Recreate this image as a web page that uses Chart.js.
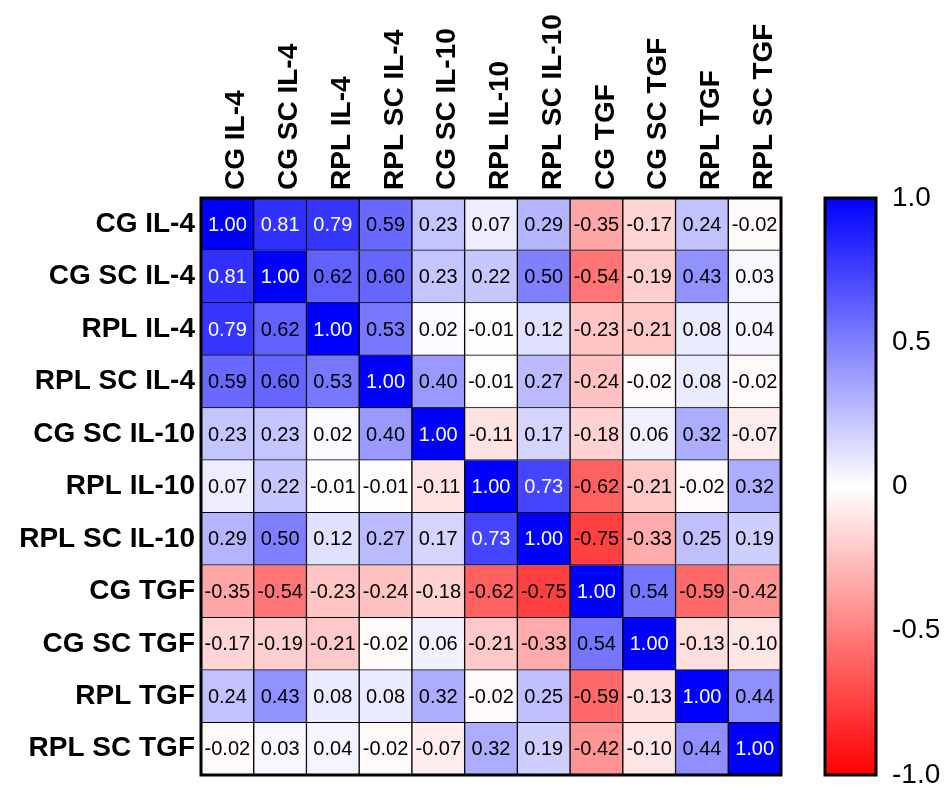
<!DOCTYPE html>
<html>
<head>
<meta charset="utf-8">
<script src="https://cdn.jsdelivr.net/npm/chart.js@4"></script>
<style>
  body { margin: 0; background: #fff; overflow: hidden; }
  #heat { display: block; width: 950px; height: 785px; }
</style>
</head>
<body>
<canvas id="heat" width="950" height="785"></canvas>
<script>
const labels = ['CG IL-4', 'CG SC IL-4', 'RPL IL-4', 'RPL SC IL-4', 'CG SC IL-10', 'RPL IL-10',
                'RPL SC IL-10', 'CG TGF', 'CG SC TGF', 'RPL TGF', 'RPL SC TGF'];

// one row of the correlation matrix per array
const rowCgIl4     = [1.00, 0.81, 0.79, 0.59, 0.23, 0.07, 0.29, -0.35, -0.17, 0.24, -0.02];
const rowCgScIl4   = [0.81, 1.00, 0.62, 0.60, 0.23, 0.22, 0.50, -0.54, -0.19, 0.43, 0.03];
const rowRplIl4    = [0.79, 0.62, 1.00, 0.53, 0.02, -0.01, 0.12, -0.23, -0.21, 0.08, 0.04];
const rowRplScIl4  = [0.59, 0.60, 0.53, 1.00, 0.40, -0.01, 0.27, -0.24, -0.02, 0.08, -0.02];
const rowCgScIl10  = [0.23, 0.23, 0.02, 0.40, 1.00, -0.11, 0.17, -0.18, 0.06, 0.32, -0.07];
const rowRplIl10   = [0.07, 0.22, -0.01, -0.01, -0.11, 1.00, 0.73, -0.62, -0.21, -0.02, 0.32];
const rowRplScIl10 = [0.29, 0.50, 0.12, 0.27, 0.17, 0.73, 1.00, -0.75, -0.33, 0.25, 0.19];
const rowCgTgf     = [-0.35, -0.54, -0.23, -0.24, -0.18, -0.62, -0.75, 1.00, 0.54, -0.59, -0.42];
const rowCgScTgf   = [-0.17, -0.19, -0.21, -0.02, 0.06, -0.21, -0.33, 0.54, 1.00, -0.13, -0.10];
const rowRplTgf    = [0.24, 0.43, 0.08, 0.08, 0.32, -0.02, 0.25, -0.59, -0.13, 1.00, 0.44];
const rowRplScTgf  = [-0.02, 0.03, 0.04, -0.02, -0.07, 0.32, 0.19, -0.42, -0.10, 0.44, 1.00];

const matrix = [rowCgIl4, rowCgScIl4, rowRplIl4, rowRplScIl4, rowCgScIl10, rowRplIl10,
                rowRplScIl10, rowCgTgf, rowCgScTgf, rowRplTgf, rowRplScTgf];

const colorbarTicks = [-1, -0.5, 0, 0.5, 1];

// white -> blue for positive, white -> red for negative
function cellColor(v) {
    const t = Math.min(Math.abs(v), 1);
    const k = Math.round(255 * (1 - t));
    return v >= 0 ? `rgb(${k},${k},255)` : `rgb(255,${k},${k})`;
}

// each row is a dataset of unit-height stacked bars, one per column
const datasets = matrix.map((row, r) => ({
    label: labels[r],
    data: row.map(() => 1),
    values: row,
    backgroundColor: row.map(cellColor),
    borderColor: '#000',
    borderWidth: 1,
    barPercentage: 1,
    categoryPercentage: 1,
    stack: 'grid'
}));

const cellText = {
    id: 'cellText',
    afterDatasetsDraw(chart) {
        const ctx = chart.ctx;
        ctx.save();
        ctx.font = '20px "Liberation Sans", Arial, sans-serif';
        ctx.textAlign = 'center';
        ctx.textBaseline = 'middle';
        chart.data.datasets.forEach((ds, r) => {
            chart.getDatasetMeta(r).data.forEach((bar, c) => {
                const v = ds.values[c];
                ctx.fillStyle = v >= 0.7 ? '#fff' : '#000';
                ctx.fillText(v.toFixed(2), bar.x, (bar.y + bar.base) / 2 + 1);
            });
        });
        const a = chart.chartArea;
        ctx.lineWidth = 3;
        ctx.strokeStyle = '#000';
        ctx.strokeRect(a.left, a.top, a.right - a.left, a.bottom - a.top);
        ctx.restore();
    }
};

const colorBar = {
    id: 'colorBar',
    afterDraw(chart) {
        const ctx = chart.ctx;
        const s = chart.scales.cb;
        const a = chart.chartArea;
        const top = s.getPixelForValue(1);
        const bottom = s.getPixelForValue(-1);
        const left = a.right + 44;
        const w = 51;
        const g = ctx.createLinearGradient(0, top, 0, bottom);
        g.addColorStop(0, cellColor(1));
        g.addColorStop(0.5, cellColor(0));
        g.addColorStop(1, cellColor(-1));
        ctx.save();
        ctx.fillStyle = g;
        ctx.fillRect(left, top, w, bottom - top);
        ctx.lineWidth = 3;
        ctx.strokeStyle = '#000';
        ctx.strokeRect(left, top, w, bottom - top);
        ctx.restore();
    }
};

const labelFont = { family: 'Liberation Sans', weight: 'bold', size: 28 };

// fixed box sizes, no label overhang padding
const fixWidth = w => s => { s.width = w; s.paddingTop = 0; s.paddingBottom = 0; };

new Chart(document.getElementById('heat'), {
    type: 'bar',
    data: { labels: labels, datasets: datasets },
    options: {
        responsive: false,
        animation: false,
        layout: { padding: { top: 0, left: 0, right: 0, bottom: 10 } },
        plugins: {
            legend: { display: false },
            tooltip: { enabled: false }
        },
        scales: {
            x: {
                type: 'category',
                position: 'top',
                stacked: true,
                offset: true,
                grid: { display: false, drawTicks: false },
                border: { display: false },
                ticks: {
                    autoSkip: false,
                    minRotation: 90,
                    maxRotation: 90,
                    padding: 8,
                    labelOffset: 43,
                    color: '#000',
                    font: labelFont
                },
                afterFit: s => { s.height = 198; s.paddingLeft = 0; s.paddingRight = 0; }
            },
            y: {
                type: 'linear',
                stacked: true,
                reverse: true,
                min: 0,
                max: 11,
                display: false
            },
            yl: {
                type: 'category',
                labels: labels,
                position: 'left',
                offset: true,
                grid: { display: false, drawTicks: false },
                border: { display: false },
                ticks: {
                    autoSkip: false,
                    padding: 6,
                    color: '#000',
                    font: labelFont
                },
                afterFit: fixWidth(201)
            },
            cb: {
                type: 'linear',
                position: 'right',
                min: -1,
                max: 1,
                grid: { display: false, drawTicks: false },
                border: { display: false },
                afterBuildTicks: s => { s.ticks = colorbarTicks.map(v => ({ value: v })); },
                ticks: {
                    padding: 111,
                    color: '#000',
                    font: { family: 'Liberation Sans', size: 28 },
                    callback: v => v === 0 ? '0' : v.toFixed(1)
                },
                afterFit: fixWidth(169)
            }
        }
    },
    plugins: [cellText, colorBar]
});
</script>
</body>
</html>
